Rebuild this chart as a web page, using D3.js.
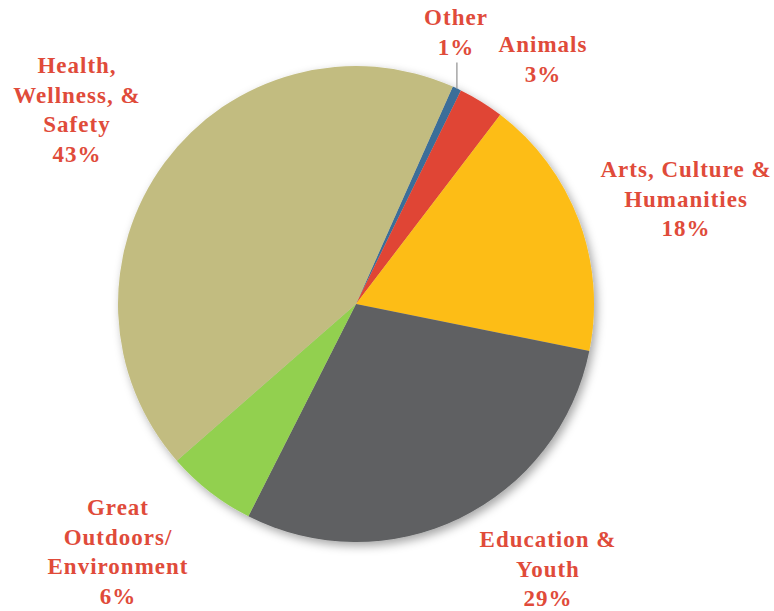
<!DOCTYPE html>
<html>
<head>
<meta charset="utf-8">
<script src="https://cdn.jsdelivr.net/npm/d3@7"></script>
<style>
  body { margin: 0; background: #fff; }
  text { font-family: "Liberation Serif", "DejaVu Serif", serif; font-weight: bold; }
</style>
</head>
<body>
<svg id="chart" width="774" height="611"></svg>
<script>
// slice order as drawn, clockwise starting from the small "Other" slice
const categories = ['Other', 'Animals', 'Arts, Culture & Humanities', 'Education & Youth', 'Great Outdoors/ Environment', 'Health, Wellness, & Safety'];
const shares = [0.6, 3.1, 17.8, 29.3, 6.1, 43.1];
const colors = ['#3B6E99', '#E04535', '#FDBD14', '#5F6062', '#92D050', '#C2BC80'];
const labelLines = [
  ['Other'],
  ['Animals'],
  ['Arts, Culture &', 'Humanities'],
  ['Education &', 'Youth'],
  ['Great', 'Outdoors/', 'Environment'],
  ['Health,', 'Wellness, &', 'Safety']
];

const svg = d3.select('#chart');
const cx = 356, cy = 304, radius = 238;

const defs = svg.append('defs');
const filt = defs.append('filter').attr('id', 'shadow')
  .attr('x', '-20%').attr('y', '-20%').attr('width', '140%').attr('height', '140%');
filt.append('feDropShadow')
  .attr('dx', 3).attr('dy', 4).attr('stdDeviation', 5)
  .attr('flood-color', '#000').attr('flood-opacity', 0.35);

const pie = d3.pie().sort(null).value((d) => d)
  .startAngle(24 * Math.PI / 180)
  .endAngle(384 * Math.PI / 180);
const arc = d3.arc().innerRadius(0).outerRadius(radius);
const arcs = pie(shares);
const total = d3.sum(shares);

const g = svg.append('g').attr('transform', `translate(${cx},${cy})`);
const slices = g.append('g').attr('filter', 'url(#shadow)');
slices.selectAll('path')
  .data(arcs)
  .enter()
  .append('path')
  .attr('d', arc)
  .style('fill', (d, i) => colors[i]);

// leader line for "Other"
const other = arcs[0];
const mid = (other.startAngle + other.endAngle) / 2;
const edgeX = Math.sin(mid) * radius, edgeY = -Math.cos(mid) * radius;
g.append('line')
  .attr('x1', edgeX).attr('y1', edgeY)
  .attr('x2', edgeX).attr('y2', edgeY - 26)
  .style('stroke', '#A6A6A6').style('stroke-width', 1.5);

// label anchor positions (center of first line baseline)
const labelPos = [[456, 25], [543, 52], [686, 177], [548, 547], [118, 515], [77, 73]];
const fmt = d3.format('.0%');
const lineH = 29.7;

svg.selectAll('text.lbl')
  .data(categories)
  .enter()
  .append('text')
  .attr('class', 'lbl')
  .attr('text-anchor', 'middle')
  .style('fill', '#E04B3A')
  .style('font-size', '23px')
  .style('letter-spacing', '1px')
  .each(function (d, i) {
    const lines = labelLines[i].concat(fmt(shares[i] / total));
    d3.select(this).selectAll('tspan')
      .data(lines)
      .enter()
      .append('tspan')
      .attr('x', labelPos[i][0])
      .attr('y', (l, j) => labelPos[i][1] + j * lineH)
      .text((l) => l);
  });
</script>
</body>
</html>
